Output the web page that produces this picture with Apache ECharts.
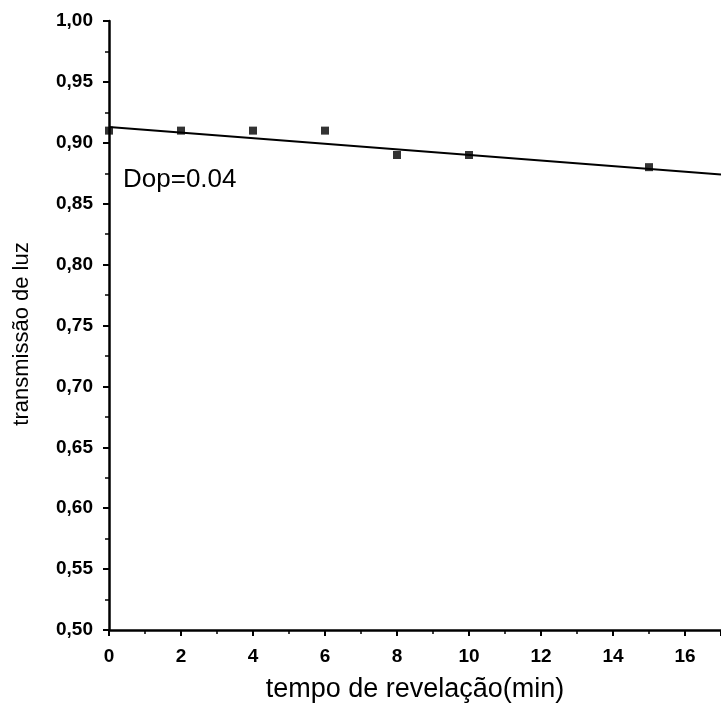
<!DOCTYPE html>
<html>
<head>
<meta charset="utf-8">
<script src="https://cdn.jsdelivr.net/npm/echarts@6/dist/echarts.min.js"></script>
<style>
  html, body { margin: 0; padding: 0; background: #fff; }
  #chart { width: 721px; height: 718px; }
</style>
</head>
<body>
<div id="chart"></div>
<script>
// Measured light transmission against development time
const tempo = [0, 2, 4, 6, 8, 10, 15];
const transmissao = [0.91, 0.91, 0.91, 0.91, 0.89, 0.89, 0.88];
// Linear fit end points
const ajusteX = [0, 17];
const ajusteY = [0.913, 0.874];
const xTicks = [0, 2, 4, 6, 8, 10, 12, 14, 16];
const yTicks = [0.50, 0.55, 0.60, 0.65, 0.70, 0.75, 0.80, 0.85, 0.90, 0.95, 1.00];
const anotacao = 'Dop=0.04';
const tituloY = 'transmissão de luz';

const font = 'Liberation Sans, Arial, sans-serif';
const chart = echarts.init(document.getElementById('chart'));

chart.setOption({
  animation: false,
  backgroundColor: '#fff',
  grid: { left: 109, right: 0, top: 21, bottom: 88, containLabel: false },
  xAxis: {
    type: 'value',
    min: 0, max: 17, interval: 2,
    name: 'tempo de revelação(min)',
    nameLocation: 'middle', nameGap: 46,
    nameTextStyle: { fontFamily: font, fontSize: 27, color: '#000' },
    axisLine: { lineStyle: { color: '#000', width: 2.5 } },
    axisTick: { length: 6, lineStyle: { color: '#000', width: 2 } },
    minorTick: { show: true, splitNumber: 2, length: 4, lineStyle: { color: '#000', width: 1.5 } },
    axisLabel: {
      fontFamily: font, fontSize: 19, fontWeight: 'bold', color: '#000', margin: 17,
      showMaxLabel: false,
      formatter: v => xTicks.includes(v) ? String(v) : ''
    },
    splitLine: { show: false }
  },
  yAxis: {
    type: 'value',
    min: 0.5, max: 1.0, interval: 0.05,
    axisLine: { lineStyle: { color: '#000', width: 2.5 } },
    axisTick: { length: 6, lineStyle: { color: '#000', width: 2 } },
    minorTick: { show: true, splitNumber: 2, length: 4, lineStyle: { color: '#000', width: 1.5 } },
    axisLabel: {
      fontFamily: font, fontSize: 19, fontWeight: 'bold', color: '#000', margin: 16,
      formatter: v => {
        const t = yTicks.find(y => Math.abs(y - v) < 1e-6);
        return t === undefined ? '' : t.toFixed(2).replace('.', ',');
      }
    },
    splitLine: { show: false }
  },
  series: [
    {
      type: 'line',
      data: ajusteX.map((x, i) => [x, ajusteY[i]]),
      symbol: 'none',
      lineStyle: { color: '#000', width: 2 },
      z: 2
    },
    {
      type: 'scatter',
      data: tempo.map((x, i) => [x, transmissao[i]]),
      symbol: 'rect',
      symbolSize: 8,
      itemStyle: { color: '#000' },
      z: 3
    }
  ],
  graphic: [
    {
      type: 'text',
      left: 123, top: 167,
      style: { text: anotacao, font: '26px ' + font, fill: '#000' }
    },
    {
      type: 'text',
      x: 22, y: 334,
      rotation: Math.PI / 2,
      style: {
        text: tituloY, font: '22px ' + font, fill: '#000',
        align: 'center', verticalAlign: 'middle'
      }
    }
  ]
});
</script>
</body>
</html>
